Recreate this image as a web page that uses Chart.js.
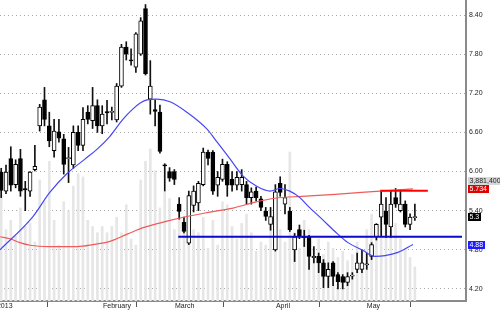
<!DOCTYPE html>
<html><head><meta charset="utf-8">
<script src="https://cdn.jsdelivr.net/npm/chart.js@4.4.1/dist/chart.umd.min.js"></script>
<style>html,body{margin:0;padding:0;background:#fff;}canvas{display:block;}</style>
</head><body>
<canvas id="c" width="500" height="312"></canvas>
<script>
// ---- data ----
const opens  = [5.99,5.70,6.20,5.80,6.20,5.74,5.70,6.03,6.70,7.10, 6.70,6.32,6.61,6.50,6.20,6.10,6.60,6.40,6.91,6.78, 7.01,6.70,6.92,6.91,6.79,7.31,7.91,7.71,7.60,7.80, 8.50,7.11,6.95,6.91,6.10,6.00,6.00,5.50,5.22,4.90, 5.48,5.52,5.80,6.30,6.30,5.79,5.88,6.11,5.88,5.79, 5.80,5.80,5.60,5.70,5.58,5.39,5.19,4.80,5.82,5.50, 5.39,4.80,5.11,5.00,4.99,4.68,4.70,4.60,4.39,4.60, 4.42,4.39,4.30,4.40,4.50,4.50,4.57,4.70,5.00,5.30, 5.39,5.15,5.60,5.40,5.50,5.19,5.30];
const highs  = [6.05,6.10,6.38,6.18,6.34,5.85,6.00,6.40,7.03,7.29, 6.91,6.80,6.80,6.57,6.37,6.70,6.70,6.98,7.01,7.29, 7.10,7.01,7.09,6.99,7.35,7.95,7.99,7.88,8.13,8.36, 8.56,7.70,7.10,7.02,6.12,6.06,6.03,5.60,5.30,5.70, 5.78,5.85,6.36,6.33,6.32,6.00,6.19,6.15,6.00,6.00, 6.03,5.85,5.75,5.76,5.62,5.45,5.45,5.80,5.92,5.80, 5.45,5.05,5.18,5.10,5.02,4.85,4.75,4.65,4.60,4.62, 4.45,4.42,4.45,4.45,4.75,4.80,4.75,4.91,5.20,5.70, 5.60,5.70,5.74,5.72,5.55,5.35,5.50];
const lows   = [5.60,5.66,5.70,5.75,5.62,5.40,5.62,6.01,6.62,6.70, 6.38,6.22,6.45,5.96,5.83,6.05,6.32,6.32,6.73,6.66, 6.60,6.58,6.73,6.79,6.76,7.29,7.71,7.63,7.52,7.78, 7.48,6.88,6.70,6.28,5.70,5.85,5.80,5.27,5.06,4.88, 5.38,5.40,5.78,6.10,5.65,5.62,5.85,5.62,5.70,5.72, 5.70,5.50,5.50,5.55,5.40,5.25,5.10,4.78,5.62,5.35, 5.08,4.62,4.97,4.85,4.50,4.60,4.45,4.22,4.22,4.25, 4.20,4.20,4.25,4.35,4.45,4.45,4.50,4.65,4.95,5.00, 4.99,4.99,5.45,5.38,5.15,5.11,5.25];
const closes = [5.71,5.99,5.79,6.11,5.70,5.72,5.99,6.08,6.99,6.80, 6.47,6.62,6.51,6.11,6.21,6.60,6.40,6.80,6.80,7.01, 6.70,6.88,6.90,6.92,7.31,7.91,7.80,7.70,8.11,8.31, 7.50,7.31,6.92,6.31,6.09,5.90,5.88,5.39,5.08,5.63, 5.70,5.82,6.30,6.20,5.70,5.91,6.11,5.79,5.79,5.91, 5.91,5.60,5.69,5.60,5.45,5.31,5.31,5.69,5.68,5.60, 5.11,5.00,5.01,4.99,4.70,4.70,4.60,4.39,4.50,4.39, 4.31,4.30,4.39,4.41,4.60,4.60,4.58,4.88,5.19,5.50, 5.19,5.50,5.50,5.50,5.19,5.30,5.30];
const volumesM = [3.4,2.3,2.6,2.1,3.0,2.4,2.5,1.9,3.9,3.2, 4.5,2.6,1.8,3.2,2.9,3.7,4.1,4.0,2.6,2.4, 2.2,2.4,2.2,2.4,2.7,2.2,3.1,2.0,1.8,3.9, 4.5,4.9,4.2,3.0,3.5,3.3,2.3,2.9,2.6,2.9, 2.3,2.2,2.7,1.7,2.6,1.8,3.2,3.1,2.4,2.0, 2.5,2.8,2.2,1.6,1.9,1.8,2.6,3.4,2.3,1.9, 4.8,2.2,1.7,2.6,2.3,1.7,2.0,1.5,1.9,1.7, 1.4,1.6,1.3,1.5,1.9,1.6,2.3,2.8,2.5,3.1, 2.4,2.3,2.5,2.0,1.7,1.4,1.1];
const fastMaX = [-0.25,6.6,10.1,13.7,17.4,19.9,22.6,25.3,27.4,28.9,30.3,32.4,35.1,38.6,42.8,44.9,47.6,50.3,53.2,55.9,58,60,62.1,63.8,66.7,69.4,72.1,75,77.7,79.8,82.5,85.6];
const fastMaY = [4.80,5.31,5.68,5.97,6.19,6.34,6.54,6.80,6.96,7.05,7.10,7.11,7.07,6.91,6.65,6.45,6.19,5.93,5.77,5.70,5.74,5.70,5.60,5.47,5.27,5.08,4.91,4.80,4.70,4.71,4.76,4.88];
const slowMaX = [-0.25,1.8,3.9,6,10.1,15.8,19.1,22.6,26.2,29.5,34.5,38.6,42.8,48.2,52.8,56.9,62.5,69.4,78.8,85.6];
const slowMaY = [5.00,4.97,4.91,4.87,4.85,4.85,4.88,4.93,5.04,5.14,5.24,5.31,5.37,5.44,5.53,5.59,5.62,5.65,5.70,5.734];
const monthLabels = ['2013','February','March','April','May'];
const monthPos = [-1.3,20.75,35.7,56.7,75.6];
const priceTicks = [4.2,4.8,5.4,6.0,6.6,7.2,7.8,8.4];
const supportLine = [5.00, 36.8, 95.8];   // level, from, to
const resistLine = [5.705, 78.8, 88.7];
const lastVolumeText = '3,881,400', lastVolumeM = 3.8814;
const lastSlowMa = 5.734, lastClose = 5.3, lastFastMa = 4.88;

// ---- build datasets ----
const idx = opens.map((_, i) => i);
const wickData = idx.map(i => ({x: i, y: [lows[i], highs[i]]}));
const bodyData = idx.map(i => {
  let lo = Math.min(opens[i], closes[i]), hi = Math.max(opens[i], closes[i]);
  if (hi - lo < 0.016) { const m = (hi + lo) / 2; lo = m - 0.008; hi = m + 0.008; }
  return {x: i, y: [lo, hi]};
});
const bodyFill = idx.map(i => closes[i] >= opens[i] ? '#ffffff' : '#000000');
const volData = idx.map(i => ({x: i, y: volumesM[i]}));
const fastData = fastMaX.map((x, i) => ({x, y: fastMaY[i]}));
const slowData = slowMaX.map((x, i) => ({x, y: slowMaY[i]}));
const FONT = {family: '"Liberation Sans", Arial, sans-serif', size: 7};

const tagPlugin = {
  id: 'tags',
  afterDraw(chart) {
    const ctx = chart.ctx, ys = chart.scales.y, yv = chart.scales.yv;
    const x0 = chart.chartArea.right + 2;
    const tag = (text, py, bg, fg, w) => {
      ctx.save();
      ctx.font = '7px "Liberation Sans", Arial, sans-serif';
      const tw = w || Math.ceil(ctx.measureText(text).width) + 3;
      const cy = Math.round(py);
      ctx.fillStyle = bg; ctx.fillRect(x0, cy - 4, tw, 8);
      ctx.fillStyle = fg; ctx.textBaseline = 'middle'; ctx.textAlign = 'left';
      ctx.fillText(text, x0 + 1.5, cy + 0.5);
      ctx.restore();
    };
    tag(lastVolumeText, yv.getPixelForValue(lastVolumeM), '#d8d8d8', '#222', 500 - x0);
    tag(lastSlowMa.toFixed(3), ys.getPixelForValue(lastSlowMa), '#e00000', '#ffffff');
    tag(String(lastClose), ys.getPixelForValue(lastClose), '#000000', '#ffffff');
    tag(lastFastMa.toFixed(2), ys.getPixelForValue(lastFastMa), '#1c1cff', '#ffffff');
  }
};

new Chart(document.getElementById('c'), {
  data: {
    datasets: [
      {type: 'bar', data: volData, yAxisID: 'yv', backgroundColor: '#e6e6e6', barThickness: 2, grouped: false, order: 10},
      {type: 'bar', data: wickData, yAxisID: 'y', backgroundColor: '#111111', barThickness: 1, grouped: false, order: 6},
      {type: 'bar', data: bodyData, yAxisID: 'y', backgroundColor: bodyFill, borderColor: '#000000', borderWidth: 1, borderSkipped: false, barThickness: 4, grouped: false, order: 5},
      {type: 'line', data: slowData, yAxisID: 'y', borderColor: '#f05a5a', borderWidth: 1.2, pointRadius: 0, cubicInterpolationMode: 'monotone', order: 3},
      {type: 'line', data: fastData, yAxisID: 'y', borderColor: '#4646f5', borderWidth: 1.2, pointRadius: 0, cubicInterpolationMode: 'monotone', order: 2},
      {type: 'line', data: [{x: supportLine[1], y: supportLine[0]}, {x: supportLine[2], y: supportLine[0]}], yAxisID: 'y', borderColor: '#0a0ac8', borderWidth: 2, pointRadius: 0, order: 1},
      {type: 'line', data: [{x: resistLine[1], y: resistLine[0]}, {x: resistLine[2], y: resistLine[0]}], yAxisID: 'y', borderColor: '#ff0000', borderWidth: 2, pointRadius: 0, order: 1}
    ]
  },
  options: {
    responsive: false, animation: false, devicePixelRatio: 1,
    layout: {padding: 0},
    plugins: {legend: {display: false}, tooltip: {enabled: false}},
    scales: {
      x: {
        type: 'linear', position: 'bottom', min: -0.25, max: 96.63, offset: false,
        afterBuildTicks: s => { s.ticks = monthPos.map(v => ({value: v})); },
        afterFit: s => { s.height = 11; s.paddingLeft = 0; s.paddingRight = 0; },
        ticks: {callback: (v, i) => monthLabels[i], autoSkip: false, maxRotation: 0, align: 'start', labelOffset: 2, padding: -5, font: FONT, color: '#222'},
        grid: {drawOnChartArea: false, drawTicks: true, tickLength: 6, color: '#555', tickColor: '#555'},
        border: {color: '#8a8a8a', width: 2}
      },
      y: {
        type: 'linear', position: 'right', min: 4.015, max: 8.63,
        afterBuildTicks: s => { s.ticks = priceTicks.map(v => ({value: v})); },
        afterFit: s => { s.width = 34; s.paddingTop = 0; s.paddingBottom = 0; },
        ticks: {callback: v => v.toFixed(2), padding: 3, font: FONT, color: '#222'},
        grid: {drawTicks: false, color: '#a8a8a8', lineWidth: 1},
        border: {color: '#8a8a8a', width: 2, dash: [1, 3]}
      },
      yv: {type: 'linear', display: false, min: 0, max: 9.7}
    }
  },
  plugins: [tagPlugin]
});
</script></body></html>
